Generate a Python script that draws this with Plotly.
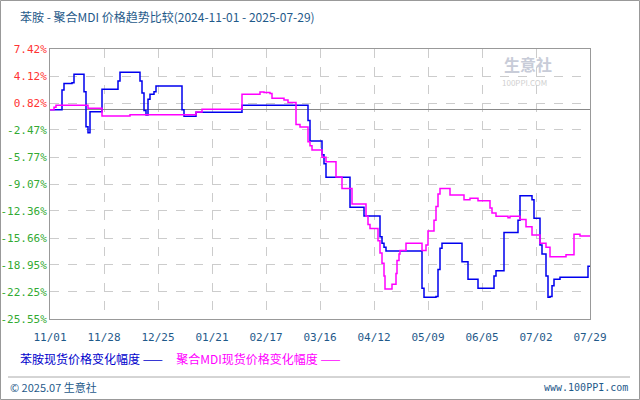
import pandas as pd
import plotly.graph_objects as go

start = pd.Timestamp("2024-11-01")

# day offset from 2024-11-01, value in %
aniline_days = [0, 5, 6, 7, 11, 12, 16, 17, 18, 19, 20, 25.5, 26, 33, 34, 35, 44, 45, 46, 47, 48, 49, 50, 52, 53,
                65, 66, 67, 72, 73, 95, 96, 128, 129, 130, 135, 136, 137, 138, 149, 150, 156, 157, 164, 165, 166,
                167, 168, 185, 186, 187, 192, 193, 194, 195, 196, 205, 206, 208, 209, 213, 214, 221, 222, 223, 226,
                227, 233, 234, 235, 240, 241, 242, 244, 245, 246, 247, 248, 249, 250, 251, 252, 254, 255, 268, 269, 270]
aniline_vals = [0, 0, 2.4, 3.2, 3.3, 4.33, 4.33, 2.2, -2.07, -2.8, -0.23, -0.23, 2.5, 2.5, 3.5, 4.57, 4.57, 3.5,
                2.05, -0.1, -0.64, 1.28, 1.9, 2.2, 2.9, 2.9, 0, -0.8, -0.8, -0.3, -0.3, 0.55, 0.55, -1.3, -3.8, -3.8,
                -5.5, -6.6, -8.25, -8.25, -11.9, -11.9, -12.97, -12.97, -15.5, -16.3, -16.8, -17.25, -17.25, -21.8,
                -22.9, -22.9, -22.8, -19.5, -16.9, -16.3, -16.3, -18.55, -18.55, -20.7, -20.7, -21.8, -21.8, -20.3,
                -19.65, -19.65, -15.0, -15.0, -13.5, -10.5, -10.5, -11.0, -13.25, -13.25, -16.5, -17.6, -17.6, -20.3,
                -22.9, -22.8, -21.5, -20.7, -20.7, -20.45, -20.45, -19.1, -19.1]

mdi_days = [0, 2, 3, 18, 19, 25, 26, 39, 40, 72, 73, 76, 95, 96, 104, 105, 107, 110, 111, 116, 117, 119, 122, 123,
            125, 128, 129, 130, 131, 135, 136, 138, 142, 143, 145, 146, 150, 151, 157, 158, 159, 160, 163, 164, 165,
            166, 167, 167.5, 170, 171, 172, 173, 173.5, 174.5, 175, 177, 178, 185, 186, 187, 188, 189, 191, 192, 193,
            194, 195, 199, 200, 206, 207, 210, 213, 214, 219, 220, 221, 223, 228, 229, 230, 234, 235, 238, 241, 244,
            245, 248, 250, 257, 258, 261, 262, 265, 270]
mdi_vals = [0, 0.3, 0.55, 0.55, 0.2, 0.2, -0.76, -0.76, -0.6, -0.6, -0.27, 0.05, 0.05, 1.9, 1.9, 2.17, 2.1, 2.0, 1.4,
            1.4, 1.2, 0.9, 0.9, -1.8, -2.1, -2.1, -3.9, -4.4, -4.9, -4.9, -5.8, -6.35, -6.35, -8.2, -8.2, -9.6, -9.6,
            -11.5, -11.5, -13.0, -14.0, -14.5, -14.5, -16.0, -17.5, -18.75, -20.3, -21.9, -21.9, -21.3, -21.3, -20.0,
            -18.4, -17.6, -17.2, -17.2, -16.3, -16.3, -17.2, -17.2, -16.5, -14.8, -14.8, -13.5, -11.8, -10.3, -9.6,
            -9.6, -10.4, -10.4, -11.0, -10.8, -10.8, -11.1, -11.1, -12.0, -12.6, -13.0, -13.0, -13.2, -13.0, -13.0,
            -13.4, -14.3, -15.3, -15.3, -16.3, -16.8, -17.95, -17.95, -17.7, -17.7, -15.2, -15.4, -15.4]

y_ticks = [7.42, 4.12, 0.82, -2.47, -5.77, -9.07, -12.36, -15.66, -18.95, -22.25, -25.55]
x_tick_labels = ["11/01", "11/28", "12/25", "01/21", "02/17", "03/16", "04/12", "05/09", "06/05", "07/02", "07/29"]


def to_dates(days):
    return [start + pd.Timedelta(hours=d * 24) for d in days]


def tick_text(v):
    color = "#ff3333" if v > 0 else "#33aa33"
    return f"<span style='color:{color}'>{v:.2f}%</span>"


# pixel -> paper helpers (plot area is x 50..590, y 49..319)
def px(x):
    return (x - 50) / 540


def py(y):
    return (319 - y) / 270


fig = go.Figure()
fig.add_trace(go.Scatter(x=to_dates(aniline_days), y=aniline_vals, mode="lines", line_shape="hv",
                         line=dict(color="#0000ee", width=1.5), hoverinfo="skip"))
fig.add_trace(go.Scatter(x=to_dates(mdi_days), y=mdi_vals, mode="lines", line_shape="hv",
                         line=dict(color="#ff00ff", width=1.5), hoverinfo="skip"))

x_ticks = [start + pd.Timedelta(days=27 * i) for i in range(len(x_tick_labels))]

fig.update_layout(
    width=640, height=400, showlegend=False,
    margin=dict(l=50, r=50, t=49, b=81, autoexpand=False),
    paper_bgcolor="white", plot_bgcolor="white",
    font=dict(family="Noto Sans CJK SC", size=11, color="#1f5a8a"),
    xaxis=dict(range=[x_ticks[0], x_ticks[-1]], tickvals=x_ticks, ticktext=x_tick_labels,
               showgrid=True, gridcolor="#cccccc", griddash="dash", gridwidth=1,
               showline=True, linecolor="#999999", mirror=True, ticks="outside", ticklen=8,
               tickcolor="rgba(0,0,0,0)",
               tickfont=dict(family="DejaVu Sans Mono", size=11, color="#1f5a8a"), zeroline=False),
    yaxis=dict(range=[-25.55, 7.42], tickvals=y_ticks, ticktext=[tick_text(v) for v in y_ticks],
               showgrid=True, gridcolor="#cccccc", griddash="dash", gridwidth=1,
               showline=True, linecolor="#999999", mirror=True, ticks="",
               tickfont=dict(family="DejaVu Sans Mono", size=11),
               zeroline=True, zerolinecolor="#888888", zerolinewidth=1),
    shapes=[
        dict(type="rect", xref="paper", yref="paper", x0=px(0.5), x1=px(639.5), y0=py(399.5), y1=py(0.5),
             line=dict(color="#999999", width=1)),
        dict(type="line", xref="paper", yref="paper", x0=px(8), x1=px(630), y0=py(377), y1=py(377),
             line=dict(color="#aaaaaa", width=1)),
    ],
    annotations=[
        dict(text="苯胺 - 聚合MDI 价格趋势比较(2024-11-01 - 2025-07-29)", xref="paper", yref="paper",
             x=px(18), y=py(16), xanchor="left", yanchor="middle", showarrow=False,
             font=dict(size=12, color="#1f5a8a")),
        dict(text="<span style='color:#0000cc'>苯胺现货价格变化幅度 ——</span>     "
                  "<span style='color:#ff00ff'>聚合MDI现货价格变化幅度 ——</span>",
             xref="paper", yref="paper", x=px(18), y=py(358), xanchor="left", yanchor="middle",
             showarrow=False, font=dict(size=12)),
        dict(text="© 2025.07 生意社", xref="paper", yref="paper", x=px(8), y=py(387),
             xanchor="left", yanchor="middle", showarrow=False, font=dict(size=11, color="#1f5a8a")),
        dict(text="www.100PPI.com", xref="paper", yref="paper", x=px(630), y=py(387),
             xanchor="right", yanchor="middle", showarrow=False,
             font=dict(family="DejaVu Sans Mono", size=10, color="#1f5a8a")),
        dict(text="<b>生意社</b>", xref="paper", yref="paper", x=px(502), y=py(64),
             xanchor="left", yanchor="middle", showarrow=False, font=dict(size=16, color="#c8ccd8")),
        dict(text="100PPI.COM", xref="paper", yref="paper", x=px(500), y=py(82),
             xanchor="left", yanchor="middle", showarrow=False, font=dict(size=8, color="#d0d0d0")),
    ],
)

fig.write_html("out.html", config={"displayModeBar": False},
               post_script="document.body.style.margin='0';")
